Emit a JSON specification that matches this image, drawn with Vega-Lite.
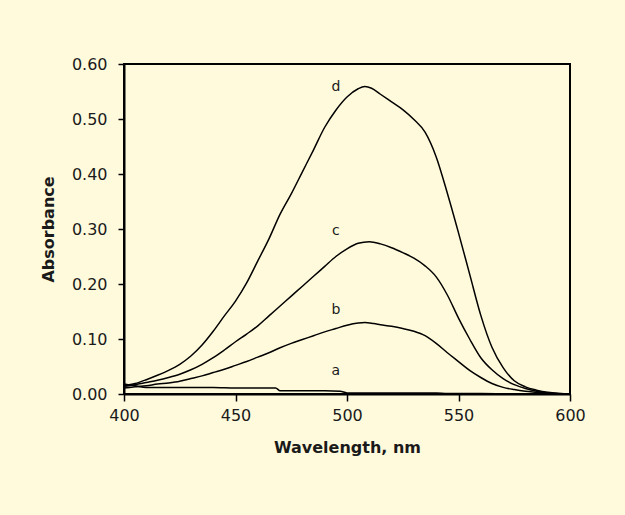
{
  "$schema": "https://vega.github.io/schema/vega-lite/v6.json",
  "width": 446,
  "height": 330,
  "autosize": {"type": "none"},
  "padding": {"left": 124, "top": 64, "right": 55, "bottom": 121},
  "background": "#FFFADC",
  "config": {
    "view": {"stroke": "#000000", "strokeWidth": 2},
    "font": "DejaVu Sans"
  },
  "datasets": {
    "curves": [
      {"series": "d", "wavelength": 400, "absorbance": 0.015},
      {"series": "d", "wavelength": 405, "absorbance": 0.019},
      {"series": "d", "wavelength": 410, "absorbance": 0.026},
      {"series": "d", "wavelength": 415, "absorbance": 0.034},
      {"series": "d", "wavelength": 420, "absorbance": 0.043},
      {"series": "d", "wavelength": 425, "absorbance": 0.054},
      {"series": "d", "wavelength": 430, "absorbance": 0.069},
      {"series": "d", "wavelength": 435, "absorbance": 0.089},
      {"series": "d", "wavelength": 440, "absorbance": 0.114},
      {"series": "d", "wavelength": 445, "absorbance": 0.142},
      {"series": "d", "wavelength": 450, "absorbance": 0.169},
      {"series": "d", "wavelength": 455, "absorbance": 0.202},
      {"series": "d", "wavelength": 460, "absorbance": 0.242},
      {"series": "d", "wavelength": 465, "absorbance": 0.282},
      {"series": "d", "wavelength": 470, "absorbance": 0.327},
      {"series": "d", "wavelength": 475, "absorbance": 0.364},
      {"series": "d", "wavelength": 480, "absorbance": 0.404},
      {"series": "d", "wavelength": 485, "absorbance": 0.444},
      {"series": "d", "wavelength": 490, "absorbance": 0.485},
      {"series": "d", "wavelength": 495, "absorbance": 0.516},
      {"series": "d", "wavelength": 500, "absorbance": 0.540},
      {"series": "d", "wavelength": 505, "absorbance": 0.555},
      {"series": "d", "wavelength": 508, "absorbance": 0.559},
      {"series": "d", "wavelength": 511, "absorbance": 0.556},
      {"series": "d", "wavelength": 515, "absorbance": 0.545},
      {"series": "d", "wavelength": 520, "absorbance": 0.531},
      {"series": "d", "wavelength": 525, "absorbance": 0.517},
      {"series": "d", "wavelength": 530, "absorbance": 0.499},
      {"series": "d", "wavelength": 535, "absorbance": 0.476},
      {"series": "d", "wavelength": 540, "absorbance": 0.431},
      {"series": "d", "wavelength": 545, "absorbance": 0.365},
      {"series": "d", "wavelength": 550, "absorbance": 0.293},
      {"series": "d", "wavelength": 555, "absorbance": 0.218},
      {"series": "d", "wavelength": 560, "absorbance": 0.143},
      {"series": "d", "wavelength": 565, "absorbance": 0.085},
      {"series": "d", "wavelength": 570, "absorbance": 0.048},
      {"series": "d", "wavelength": 575, "absorbance": 0.024},
      {"series": "d", "wavelength": 580, "absorbance": 0.013},
      {"series": "d", "wavelength": 585, "absorbance": 0.007},
      {"series": "d", "wavelength": 590, "absorbance": 0.003},
      {"series": "d", "wavelength": 595, "absorbance": 0.001},
      {"series": "d", "wavelength": 600, "absorbance": 0.000},
      {"series": "c", "wavelength": 400, "absorbance": 0.014},
      {"series": "c", "wavelength": 405, "absorbance": 0.017},
      {"series": "c", "wavelength": 410, "absorbance": 0.021},
      {"series": "c", "wavelength": 415, "absorbance": 0.025},
      {"series": "c", "wavelength": 420, "absorbance": 0.030},
      {"series": "c", "wavelength": 425, "absorbance": 0.036},
      {"series": "c", "wavelength": 430, "absorbance": 0.044},
      {"series": "c", "wavelength": 435, "absorbance": 0.054},
      {"series": "c", "wavelength": 440, "absorbance": 0.066},
      {"series": "c", "wavelength": 445, "absorbance": 0.080},
      {"series": "c", "wavelength": 450, "absorbance": 0.095},
      {"series": "c", "wavelength": 455, "absorbance": 0.109},
      {"series": "c", "wavelength": 460, "absorbance": 0.124},
      {"series": "c", "wavelength": 465, "absorbance": 0.142},
      {"series": "c", "wavelength": 470, "absorbance": 0.160},
      {"series": "c", "wavelength": 475, "absorbance": 0.178},
      {"series": "c", "wavelength": 480, "absorbance": 0.196},
      {"series": "c", "wavelength": 485, "absorbance": 0.214},
      {"series": "c", "wavelength": 490, "absorbance": 0.232},
      {"series": "c", "wavelength": 495, "absorbance": 0.250},
      {"series": "c", "wavelength": 500, "absorbance": 0.264},
      {"series": "c", "wavelength": 505, "absorbance": 0.274},
      {"series": "c", "wavelength": 510, "absorbance": 0.277},
      {"series": "c", "wavelength": 515, "absorbance": 0.273},
      {"series": "c", "wavelength": 520, "absorbance": 0.266},
      {"series": "c", "wavelength": 525, "absorbance": 0.257},
      {"series": "c", "wavelength": 530, "absorbance": 0.247},
      {"series": "c", "wavelength": 535, "absorbance": 0.233},
      {"series": "c", "wavelength": 540, "absorbance": 0.213},
      {"series": "c", "wavelength": 545, "absorbance": 0.180},
      {"series": "c", "wavelength": 550, "absorbance": 0.138},
      {"series": "c", "wavelength": 555, "absorbance": 0.100},
      {"series": "c", "wavelength": 560, "absorbance": 0.066},
      {"series": "c", "wavelength": 565, "absorbance": 0.044},
      {"series": "c", "wavelength": 570, "absorbance": 0.028},
      {"series": "c", "wavelength": 575, "absorbance": 0.017},
      {"series": "c", "wavelength": 580, "absorbance": 0.010},
      {"series": "c", "wavelength": 585, "absorbance": 0.005},
      {"series": "c", "wavelength": 590, "absorbance": 0.002},
      {"series": "c", "wavelength": 595, "absorbance": 0.001},
      {"series": "c", "wavelength": 600, "absorbance": 0.000},
      {"series": "b", "wavelength": 400, "absorbance": 0.011},
      {"series": "b", "wavelength": 405, "absorbance": 0.013},
      {"series": "b", "wavelength": 410, "absorbance": 0.015},
      {"series": "b", "wavelength": 415, "absorbance": 0.018},
      {"series": "b", "wavelength": 420, "absorbance": 0.020},
      {"series": "b", "wavelength": 425, "absorbance": 0.023},
      {"series": "b", "wavelength": 430, "absorbance": 0.028},
      {"series": "b", "wavelength": 435, "absorbance": 0.033},
      {"series": "b", "wavelength": 440, "absorbance": 0.039},
      {"series": "b", "wavelength": 445, "absorbance": 0.045},
      {"series": "b", "wavelength": 450, "absorbance": 0.052},
      {"series": "b", "wavelength": 455, "absorbance": 0.059},
      {"series": "b", "wavelength": 460, "absorbance": 0.067},
      {"series": "b", "wavelength": 465, "absorbance": 0.075},
      {"series": "b", "wavelength": 470, "absorbance": 0.084},
      {"series": "b", "wavelength": 475, "absorbance": 0.092},
      {"series": "b", "wavelength": 480, "absorbance": 0.099},
      {"series": "b", "wavelength": 485, "absorbance": 0.106},
      {"series": "b", "wavelength": 490, "absorbance": 0.113},
      {"series": "b", "wavelength": 495, "absorbance": 0.119},
      {"series": "b", "wavelength": 500, "absorbance": 0.125},
      {"series": "b", "wavelength": 505, "absorbance": 0.129},
      {"series": "b", "wavelength": 508, "absorbance": 0.130},
      {"series": "b", "wavelength": 512, "absorbance": 0.128},
      {"series": "b", "wavelength": 515, "absorbance": 0.126},
      {"series": "b", "wavelength": 520, "absorbance": 0.123},
      {"series": "b", "wavelength": 525, "absorbance": 0.119},
      {"series": "b", "wavelength": 530, "absorbance": 0.114},
      {"series": "b", "wavelength": 535, "absorbance": 0.106},
      {"series": "b", "wavelength": 540, "absorbance": 0.092},
      {"series": "b", "wavelength": 545, "absorbance": 0.075},
      {"series": "b", "wavelength": 550, "absorbance": 0.059},
      {"series": "b", "wavelength": 555, "absorbance": 0.043},
      {"series": "b", "wavelength": 560, "absorbance": 0.030},
      {"series": "b", "wavelength": 565, "absorbance": 0.019},
      {"series": "b", "wavelength": 570, "absorbance": 0.012},
      {"series": "b", "wavelength": 575, "absorbance": 0.008},
      {"series": "b", "wavelength": 580, "absorbance": 0.005},
      {"series": "b", "wavelength": 585, "absorbance": 0.003},
      {"series": "b", "wavelength": 590, "absorbance": 0.001},
      {"series": "b", "wavelength": 595, "absorbance": 0.000},
      {"series": "b", "wavelength": 600, "absorbance": 0.000},
      {"series": "a", "wavelength": 400, "absorbance": 0.018},
      {"series": "a", "wavelength": 405, "absorbance": 0.015},
      {"series": "a", "wavelength": 410, "absorbance": 0.012},
      {"series": "a", "wavelength": 420, "absorbance": 0.012},
      {"series": "a", "wavelength": 430, "absorbance": 0.012},
      {"series": "a", "wavelength": 440, "absorbance": 0.012},
      {"series": "a", "wavelength": 450, "absorbance": 0.011},
      {"series": "a", "wavelength": 460, "absorbance": 0.011},
      {"series": "a", "wavelength": 468, "absorbance": 0.011},
      {"series": "a", "wavelength": 470, "absorbance": 0.006},
      {"series": "a", "wavelength": 480, "absorbance": 0.006},
      {"series": "a", "wavelength": 490, "absorbance": 0.006},
      {"series": "a", "wavelength": 497, "absorbance": 0.005},
      {"series": "a", "wavelength": 500, "absorbance": 0.002},
      {"series": "a", "wavelength": 520, "absorbance": 0.002},
      {"series": "a", "wavelength": 540, "absorbance": 0.002},
      {"series": "a", "wavelength": 545, "absorbance": 0.001},
      {"series": "a", "wavelength": 560, "absorbance": 0.001},
      {"series": "a", "wavelength": 580, "absorbance": 0.000},
      {"series": "a", "wavelength": 600, "absorbance": 0.000}
    ],
    "labels": [
      {"series": "d", "wavelength": 495, "absorbance": 0.559},
      {"series": "c", "wavelength": 495, "absorbance": 0.297},
      {"series": "b", "wavelength": 495, "absorbance": 0.153},
      {"series": "a", "wavelength": 495, "absorbance": 0.041}
    ]
  },
  "layer": [
    {
      "data": {"name": "curves"},
      "mark": {"type": "line", "color": "#000000", "strokeWidth": 1.5, "interpolate": "monotone"},
      "encoding": {
        "x": {
          "field": "wavelength",
          "type": "quantitative",
          "scale": {"domain": [400, 600], "nice": false, "zero": false},
          "axis": {
            "values": [400, 450, 500, 550, 600],
            "format": "d",
            "grid": false,
            "domainColor": "#000000",
            "domainWidth": 2,
            "tickColor": "#000000",
            "tickWidth": 1.5,
            "tickSize": 7,
            "labelFont": "DejaVu Sans",
            "labelFontSize": 16,
            "labelColor": "#1a1a1a",
            "labelPadding": 6,
            "labelFlush": false,
            "labelOverlap": false,
            "title": "Wavelength, nm",
            "titleFont": "DejaVu Sans",
            "titleFontSize": 16,
            "titleFontWeight": "bold",
            "titleColor": "#1a1a1a",
            "titlePadding": 16
          }
        },
        "y": {
          "field": "absorbance",
          "type": "quantitative",
          "scale": {"domain": [0, 0.6], "nice": false},
          "axis": {
            "values": [0, 0.1, 0.2, 0.3, 0.4, 0.5, 0.6],
            "format": ".2f",
            "grid": false,
            "domainColor": "#000000",
            "domainWidth": 2,
            "tickColor": "#000000",
            "tickWidth": 1.5,
            "tickSize": 6,
            "labelFont": "DejaVu Sans",
            "labelFontSize": 16,
            "labelColor": "#1a1a1a",
            "labelPadding": 11,
            "labelFlush": false,
            "labelOverlap": false,
            "title": "Absorbance",
            "titleFont": "DejaVu Sans",
            "titleFontSize": 16,
            "titleFontWeight": "bold",
            "titleColor": "#1a1a1a",
            "titlePadding": 15
          }
        },
        "detail": {"field": "series", "type": "nominal"}
      }
    },
    {
      "data": {"name": "labels"},
      "mark": {"type": "text", "font": "DejaVu Sans", "fontSize": 14, "color": "#1a1a1a", "align": "center", "baseline": "middle"},
      "encoding": {
        "x": {"field": "wavelength", "type": "quantitative"},
        "y": {"field": "absorbance", "type": "quantitative"},
        "text": {"field": "series", "type": "nominal"}
      }
    }
  ]
}
